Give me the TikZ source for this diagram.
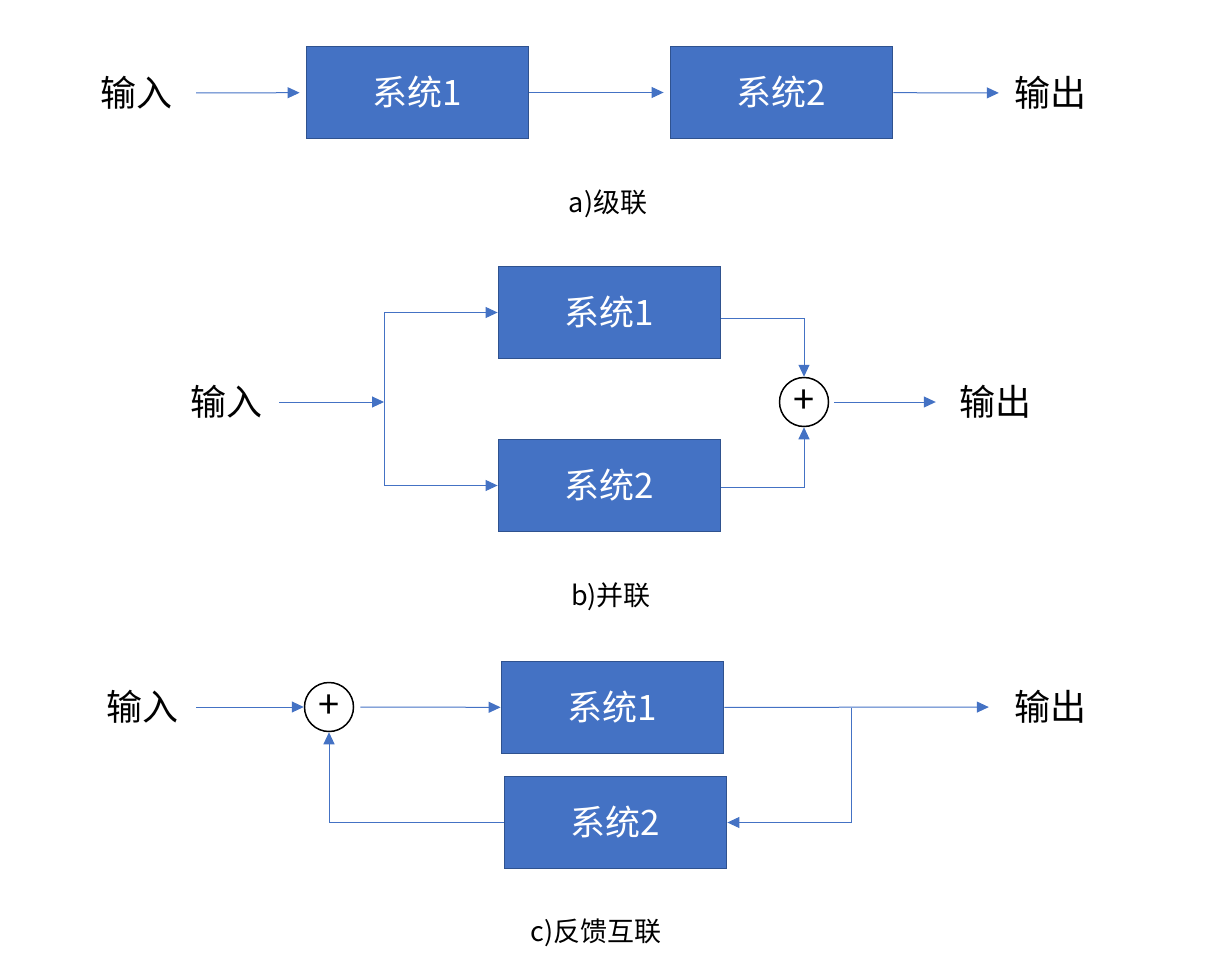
\documentclass[tikz,border=0pt]{standalone}
\usepackage{fontspec}
\setmainfont{Noto Sans CJK SC}
\usetikzlibrary{arrows.meta, positioning}
\definecolor{sysblue}{HTML}{4472C4}
\definecolor{sysedge}{HTML}{2F528F}

\begin{document}
\begin{tikzpicture}[x=1pt, y=-1pt,
    sys/.style={draw=sysedge, line width=1.8pt, fill=sysblue, minimum width=222pt, minimum height=92pt, text=white, font=\fontsize{35}{40}\selectfont, inner sep=0pt},
    sum/.style={circle, draw=black, line width=1.5pt, minimum size=49pt, inner sep=0pt, font=\fontsize{38}{40}\selectfont},
    lbl/.style={font=\fontsize{36}{40}\selectfont, inner sep=0pt},
    caption/.style={font=\fontsize{27}{30}\selectfont, inner sep=0pt},
    sig/.style={draw=sysblue, line width=1pt, -{Triangle[length=12pt, width=11pt]}}]
    \useasboundingbox (0,0) rectangle (1220,979);

    % a) cascade
    \node[lbl] (a-in) at (136,93) {输入};
    \node[sys] (a-s1) at (417.5,92.5) {系统1};
    \node[sys] (a-s2) at (781.5,92.5) {系统2};
    \node[lbl] (a-out) at (1050,93) {输出};
    \node[caption] (a-cap) at (608,204) {a)级联};
    \draw[sig, shorten <=24pt, shorten >=6pt] (a-in) -- (a-s1);
    \draw[sig, shorten >=6pt] (a-s1) -- (a-s2);
    \draw[sig, shorten >=15pt] (a-s2) -- (a-out);

    % b) parallel
    \node[lbl] (b-in) at (226,402) {输入};
    \node[sys] (b-s1) at (609.5,312.5) {系统1};
    \node[sys] (b-s2) at (609.5,485.5) {系统2};
    \node[sum] (b-sum) at (804,402) {+};
    \node[lbl] (b-out) at (995,402) {输出};
    \node[caption] (b-cap) at (611,597) {b)并联};
    \coordinate (b-fork) at (384,402);
    \draw[sig, shorten <=17pt] (b-in) -- (b-fork);
    \draw[sig] (b-fork) |- (b-s1);
    \draw[sig] (b-fork) |- (b-s2);
    \draw[sig] (b-s1.east |- 0,318) -| (b-sum);
    \draw[sig] (b-s2.east |- 0,487) -| (b-sum);
    \draw[sig, shorten <=5pt, shorten >=23pt] (b-sum) -- (b-out);

    % c) feedback
    \node[lbl] (c-in) at (142,707) {输入};
    \node[sum] (c-sum) at (329,707) {+};
    \node[sys] (c-s1) at (612.5,707.5) {系统1};
    \node[sys] (c-s2) at (615.5,822.5) {系统2};
    \node[lbl] (c-out) at (1050,707) {输出};
    \node[caption] (c-cap) at (596,933) {c)反馈互联};
    \coordinate (c-tap) at (851,707.5);
    \draw[sig, shorten <=18pt] (c-in) -- (c-sum);
    \draw[sig, shorten <=6pt] (c-sum) -- (c-s1);
    \draw[sig, shorten >=25pt] (c-s1) -- (c-out);
    \draw[sig] (c-tap) |- (c-s2);
    \draw[sig] (c-s2) -| (c-sum);
\end{tikzpicture}
\end{document}
